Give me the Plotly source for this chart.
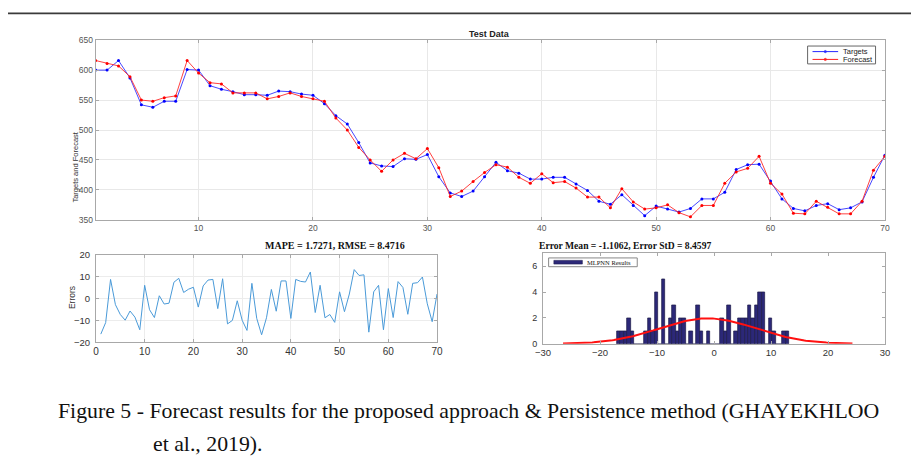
import numpy as np
import plotly.graph_objects as go

W, H = 917, 467

# ---------------- data ----------------
x_index = list(range(1, 71))

targets = [600, 600, 616, 587, 542, 538, 548, 548, 601, 600,
           574, 568, 564, 559, 559, 558, 565, 564, 560, 558,
           544, 524, 510, 479, 445, 440, 439, 452, 451, 459,
           422, 395, 389, 398, 422, 446, 432, 428, 418, 418,
           421, 421, 410, 399, 381, 376, 392, 374, 357, 373,
           368, 363, 369, 385, 385, 396, 434, 442, 443, 415,
           385, 369, 365, 374, 377, 367, 370, 380, 421, 458]

forecast = [616, 611, 607, 589, 550, 548, 554, 557, 616, 595,
            579, 577, 562, 562, 562, 552, 556, 562, 556, 552,
            548, 520, 500, 471, 450, 431, 450, 461, 452, 469,
            437, 389, 398, 414, 429, 442, 438, 421, 411, 427,
            412, 414, 403, 388, 388, 370, 402, 380, 368, 370,
            375, 362, 355, 374, 374, 411, 430, 436, 456, 411,
            393, 361, 360, 381, 371, 360, 360, 381, 433, 456]

err_index = list(range(1, 71))
errors = [-16.3, -11.0, 8.8, -2.8, -7.3, -9.9, -5.7, -8.5, -14.3, 6.1,
          -5.1, -8.7, 1.3, -2.5, -2.1, 7.5, 9.3, 2.8, 4.3, 5.2,
          -3.9, 5.8, 8.5, 8.8, -4.6, 9.1, -11.6, -10.0, -1.0, -9.9,
          -14.6, 7.0, -9.1, -16.6, -8.8, 4.2, -5.8, 8.1, 8.1, -9.1,
          8.8, 7.9, 7.6, 12.2, -6.4, 6.1, -8.8, -7.3, -10.9, 3.1,
          -6.0, 2.1, 13.3, 10.6, 10.9, -15.4, 3.1, 6.1, -14.3, 4.6,
          -8.7, 7.8, 5.1, -7.2, 7.0, 7.3, 9.9, -2.4, -10.6, 2.1]

hist_counts = [1, 1, 1, 2, 1, 0, 0, 0, 1, 2,
               1, 4, 0, 5, 0, 2, 3, 1, 2, 2,
               0, 1, 0, 3, 1, 0, 1, 0, 0, 0,
               2, 1, 3, 0, 1, 2, 2, 2, 3, 2,
               3, 4, 4, 0, 2, 1, 0, 0, 1, 1]
hist_start = -17.04
hist_width = 0.605

err_mean = -1.1062
err_std = 8.4597
mape = 1.7271
rmse = 8.4716

# ---------------- helpers ----------------
def fx(px):
    return px / W

def fy(py):
    return 1 - py / H

SANS = "Liberation Sans, Arial, sans-serif"
SERIF = "Liberation Serif, Times New Roman, serif"
AX = "#a8a8a8"
TICKC = "#555555"

bin_centers = [hist_start + (k + 0.5) * hist_width for k in range(len(hist_counts))]
n_total = sum(hist_counts)
curve_x = np.linspace(err_mean - 3 * err_std, err_mean + 3 * err_std, 200)
curve_y = n_total * hist_width * np.exp(-0.5 * ((curve_x - err_mean) / err_std) ** 2) / (err_std * np.sqrt(2 * np.pi))

fig = go.Figure()

fig.add_trace(go.Scatter(x=x_index, y=targets, mode="lines+markers", name="Targets",
                         line=dict(color="rgba(40,40,255,0.85)", width=1),
                         marker=dict(size=3, color="#0000ff"),
                         xaxis="x", yaxis="y", showlegend=False))
fig.add_trace(go.Scatter(x=x_index, y=forecast, mode="lines+markers", name="Forecast",
                         line=dict(color="rgba(255,30,30,0.85)", width=1),
                         marker=dict(size=3, color="#ff0000"),
                         xaxis="x", yaxis="y", showlegend=False))
fig.add_trace(go.Scatter(x=err_index, y=errors, mode="lines", name="Errors",
                         line=dict(color="#4a9ad8", width=1),
                         xaxis="x2", yaxis="y2", showlegend=False))
fig.add_trace(go.Bar(x=bin_centers, y=hist_counts, width=hist_width, name="MLPNN Results",
                     marker=dict(color="#2c2878", line=dict(color="#1c1a48", width=0.7)),
                     xaxis="x3", yaxis="y3", showlegend=False))
fig.add_trace(go.Scatter(x=curve_x, y=curve_y, mode="lines", name="Normal fit",
                         line=dict(color="#ff1010", width=2),
                         xaxis="x3", yaxis="y3", showlegend=False))

def axis_common(**kw):
    d = dict(showline=True, linecolor=AX, linewidth=1, mirror="ticks",
             ticks="inside", ticklen=3, tickcolor=AX, zeroline=False,
             tickfont=dict(family=SANS, size=8.5, color=TICKC))
    d.update(kw)
    return d

fig.update_layout(
    width=W, height=H,
    margin=dict(l=0, r=0, t=0, b=0),
    paper_bgcolor="white", plot_bgcolor="white",
    bargap=0,
    xaxis=axis_common(domain=[fx(89), fx(890.5)], range=[1, 70], tickvals=[10, 20, 30, 40, 50, 60, 70],
                      showgrid=True, gridcolor="#e8e8e8", anchor="y"),
    yaxis=axis_common(domain=[fy(219), fy(35)], range=[350, 650], tickvals=[350, 400, 450, 500, 550, 600, 650],
                      showgrid=True, gridcolor="#e8e8e8", anchor="x"),
    xaxis2=axis_common(domain=[fx(89.3), fx(435.7)], range=[0, 70], dtick=10,
                       showgrid=True, gridcolor="#ececec", anchor="y2",
                       tickfont=dict(family=SANS, size=10, color="#333333")),
    yaxis2=axis_common(domain=[fy(344.3), fy(255)], range=[-20, 20], dtick=10,
                       showgrid=True, gridcolor="#ececec", anchor="x2", ticklabelstandoff=3,
                       tickfont=dict(family=SANS, size=9.5, color="#333333")),
    xaxis3=axis_common(domain=[fx(543.3), fx(890.7)], range=[-30, 30], dtick=10,
                       showgrid=False, anchor="y3",
                       tickfont=dict(family=SANS, size=9.5, color="#333333")),
    yaxis3=axis_common(domain=[fy(346), fy(253.3)], range=[0, 7], tickvals=[0, 2, 4, 6],
                       showgrid=False, anchor="x3", ticklabelstandoff=3,
                       tickfont=dict(family=SANS, size=9, color="#333333")),
)

ann = []
shapes = []

# dark rule at the top of the page
shapes.append(dict(type="line", xref="paper", yref="paper", x0=0, x1=1, y0=fy(7.5), y1=fy(7.5),
                   line=dict(color="#3a3a3a", width=1.8)))

# titles
ann.append(dict(text="<b>Test Data</b>", x=fx(489), y=fy(29), xref="paper", yref="paper",
                showarrow=False, yanchor="middle", font=dict(family=SANS, size=9, color="#222222")))
ann.append(dict(text="<b>MAPE = %.4f, RMSE = %.4f</b>" % (mape, rmse), x=fx(259), y=fy(245.5),
                xref="paper", yref="paper", showarrow=False, yanchor="middle",
                font=dict(family=SERIF, size=10, color="#111111")))
ann.append(dict(text="<b>Error Mean = %.4f, Error StD = %.4f</b>" % (err_mean, err_std), x=fx(715.5), y=fy(245.5),
                xref="paper", yref="paper", showarrow=False, yanchor="middle",
                font=dict(family=SERIF, size=9.6, color="#111111")))

# axis titles
ann.append(dict(text="Targets and Forecast", x=fx(61.5), y=fy(127), xref="paper", yref="paper",
                showarrow=False, textangle=-90, font=dict(family=SANS, size=7.5, color="#333333")))
ann.append(dict(text="Errors", x=fx(58), y=fy(299), xref="paper", yref="paper",
                showarrow=False, textangle=-90, font=dict(family=SANS, size=8.5, color="#333333")))

# top legend
shapes.append(dict(type="rect", xref="paper", yref="paper", x0=fx(812), x1=fx(881), y0=fy(59.3), y1=fy(41),
                   line=dict(color="#666666", width=1), fillcolor="white"))
for yy, col, lab in [(46.7, "#2828ff", "Targets"), (54.7, "#ff1e1e", "Forecast")]:
    shapes.append(dict(type="line", xref="paper", yref="paper", x0=fx(817), x1=fx(843), y0=fy(yy), y1=fy(yy),
                       line=dict(color=col, width=1)))
    shapes.append(dict(type="circle", xref="paper", yref="paper", x0=fx(828.8), x1=fx(831.2),
                       y0=fy(yy + 1.2), y1=fy(yy - 1.2), line=dict(color=col, width=0.5), fillcolor=col))
    ann.append(dict(text=lab, x=fx(846), y=fy(yy), xref="paper", yref="paper", xanchor="left",
                    yanchor="middle", showarrow=False, font=dict(family=SANS, size=7.5, color="#222222")))

# histogram legend
shapes.append(dict(type="rect", xref="paper", yref="paper", x0=fx(549), x1=fx(639), y0=fy(267), y1=fy(258),
                   line=dict(color="#888888", width=1), fillcolor="white"))
shapes.append(dict(type="rect", xref="paper", yref="paper", x0=fx(554.3), x1=fx(583.3), y0=fy(264.3), y1=fy(260.5),
                   line=dict(color="#1c1a48", width=0.5), fillcolor="#2c2878"))
ann.append(dict(text="MLPNN Results", x=fx(586), y=fy(262.5), xref="paper", yref="paper", xanchor="left",
                yanchor="middle", showarrow=False, font=dict(family=SERIF, size=6.5, color="#111111")))

# caption
ann.append(dict(text="Figure 5 - Forecast results for the proposed approach &amp; Persistence method (GHAYEKHLOO",
                x=fx(49), y=fy(415), xref="paper", yref="paper", xanchor="left", yanchor="middle",
                showarrow=False, font=dict(family=SERIF, size=21.8, color="#111111")))
ann.append(dict(text="et al., 2019).",
                x=fx(145), y=fy(449), xref="paper", yref="paper", xanchor="left", yanchor="middle",
                showarrow=False, font=dict(family=SERIF, size=21.8, color="#111111")))

fig.update_layout(annotations=ann, shapes=shapes)

fig.write_html("out.html", config={"displayModeBar": False},
               post_script="document.body.style.margin='0';document.body.style.overflow='hidden';")
